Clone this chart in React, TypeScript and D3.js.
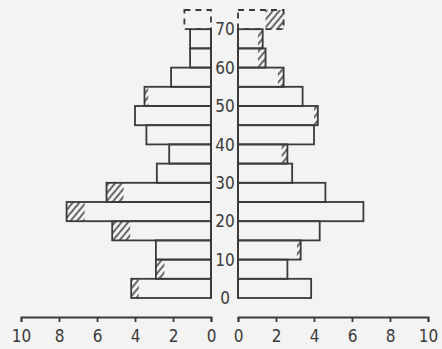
import React, { useEffect, useRef } from "react";
import * as d3 from "d3";

// age groups (lower bound of each 5-year band), last one is the open 70+ band
const ageStarts = [0, 5, 10, 15, 20, 25, 30, 35, 40, 45, 50, 55, 60, 65, 70];
const ageLabels = [0, 10, 20, 30, 40, 50, 60, 70];
const axisTicks = [0, 2, 4, 6, 8, 10];

// left half: total length and hatched (outer) part
const leftTotal = [4.2, 2.9, 2.9, 5.2, 7.6, 5.5, 2.85, 2.2, 3.4, 4.0, 3.5, 2.1, 1.1, 1.1, 1.4];
const leftHatch = [0.4, 0.45, 0, 0.95, 0.95, 0.9, 0, 0, 0, 0, 0.2, 0, 0, 0, 0];

// right half
const rightTotal = [3.85, 2.6, 3.3, 4.3, 6.6, 4.6, 2.85, 2.6, 4.0, 4.2, 3.4, 2.4, 1.45, 1.3, 2.4];
const rightHatch = [0, 0, 0.2, 0, 0, 0, 0, 0.3, 0, 0.2, 0, 0.3, 0.4, 0.25, 0.95];

const INK = "#3a3a3a";
const PAPER = "#f3f3f3";
const FONT = "'DejaVu Sans Condensed', 'Liberation Sans Narrow', 'Liberation Sans', sans-serif";

const App = () => {
  const svgRef = useRef<SVGSVGElement>(null);

  useEffect(() => {
    const svg = d3.select(svgRef.current);
    svg.selectAll("*").remove();

    const xL = d3.scaleLinear().domain([0, 10]).range([211, 21]);
    const xR = d3.scaleLinear().domain([0, 10]).range([238, 428]);
    const y = d3.scaleLinear().domain([0, 75]).range([298, 10]);

    // hatch pattern "/"
    const defs = svg.append("defs");
    defs
      .append("pattern")
      .attr("id", "hatch")
      .attr("patternUnits", "userSpaceOnUse")
      .attr("width", 5)
      .attr("height", 5)
      .attr("patternTransform", "rotate(40)")
      .append("line")
      .attr("x1", 1)
      .attr("y1", 0)
      .attr("x2", 1)
      .attr("y2", 5)
      .attr("stroke", INK)
      .attr("stroke-width", 1.5);

    svg.append("rect").attr("width", 442).attr("height", 349).attr("fill", PAPER);

    const bands = ageStarts.map((a, i) => ({
      a,
      lt: leftTotal[i],
      lh: leftHatch[i],
      rt: rightTotal[i],
      rh: rightHatch[i],
      open: a === 70,
    }));

    const g = svg.append("g");

    // hatched parts first (outer end of each bar)
    bands.forEach((d) => {
      const top = y(d.a + 5);
      const h = y(d.a) - y(d.a + 5);
      if (d.lh > 0)
        g.append("rect")
          .attr("x", xL(d.lt))
          .attr("y", top)
          .attr("width", xL(d.lt - d.lh) - xL(d.lt))
          .attr("height", h)
          .attr("fill", "url(#hatch)");
      if (d.rh > 0)
        g.append("rect")
          .attr("x", xR(d.rt - d.rh))
          .attr("y", top)
          .attr("width", xR(d.rt) - xR(d.rt - d.rh))
          .attr("height", h)
          .attr("fill", "url(#hatch)");
    });

    // bar outlines
    bands.forEach((d) => {
      const top = y(d.a + 5);
      const h = y(d.a) - y(d.a + 5);
      const dash = d.open ? "6,5" : null;
      g.append("rect")
        .attr("x", xL(d.lt))
        .attr("y", top)
        .attr("width", xL(0) - xL(d.lt))
        .attr("height", h)
        .attr("fill", "none")
        .attr("stroke", INK)
        .attr("stroke-width", 1.8)
        .attr("stroke-dasharray", dash);
      g.append("rect")
        .attr("x", xR(0))
        .attr("y", top)
        .attr("width", xR(d.rt) - xR(0))
        .attr("height", h)
        .attr("fill", "none")
        .attr("stroke", INK)
        .attr("stroke-width", 1.8)
        .attr("stroke-dasharray", dash);
    });

    // solid centre lines up to 70
    [xL(0), xR(0)].forEach((x) => {
      g.append("line")
        .attr("x1", x)
        .attr("x2", x)
        .attr("y1", y(0))
        .attr("y2", y(70))
        .attr("stroke", INK)
        .attr("stroke-width", 2);
    });

    // age labels between the halves
    g.selectAll(".age")
      .data(ageLabels)
      .enter()
      .append("text")
      .attr("x", (xL(0) + xR(0)) / 2 + 0.5)
      .attr("y", (d) => y(d))
      .attr("dy", "0.36em")
      .attr("text-anchor", "middle")
      .attr("font-family", FONT)
      .attr("font-size", 17)
      .attr("fill", INK)
      .text((d) => d);

    // bottom scales
    const styleAxis = (sel: any) => {
      sel.select(".domain").attr("stroke", INK).attr("stroke-width", 1.8);
      sel.selectAll(".tick line").attr("stroke", INK).attr("stroke-width", 1.8);
      sel.selectAll(".tick text")
        .attr("fill", INK)
        .attr("font-family", FONT)
        .attr("font-size", 17);
    };

    g.append("g")
      .attr("transform", "translate(0,317)")
      .call(d3.axisBottom(xL).tickValues(axisTicks).tickSize(5).tickPadding(8).tickFormat(d3.format("d")))
      .call(styleAxis);

    g.append("g")
      .attr("transform", "translate(0,317)")
      .call(d3.axisBottom(xR).tickValues(axisTicks).tickSize(5).tickPadding(8).tickFormat(d3.format("d")))
      .call(styleAxis);
  }, []);

  return (
    <svg
      ref={svgRef}
      width={442}
      height={349}
      style={{ position: "absolute", left: 0, top: 0, display: "block" }}
    ></svg>
  );
};

export default App;
